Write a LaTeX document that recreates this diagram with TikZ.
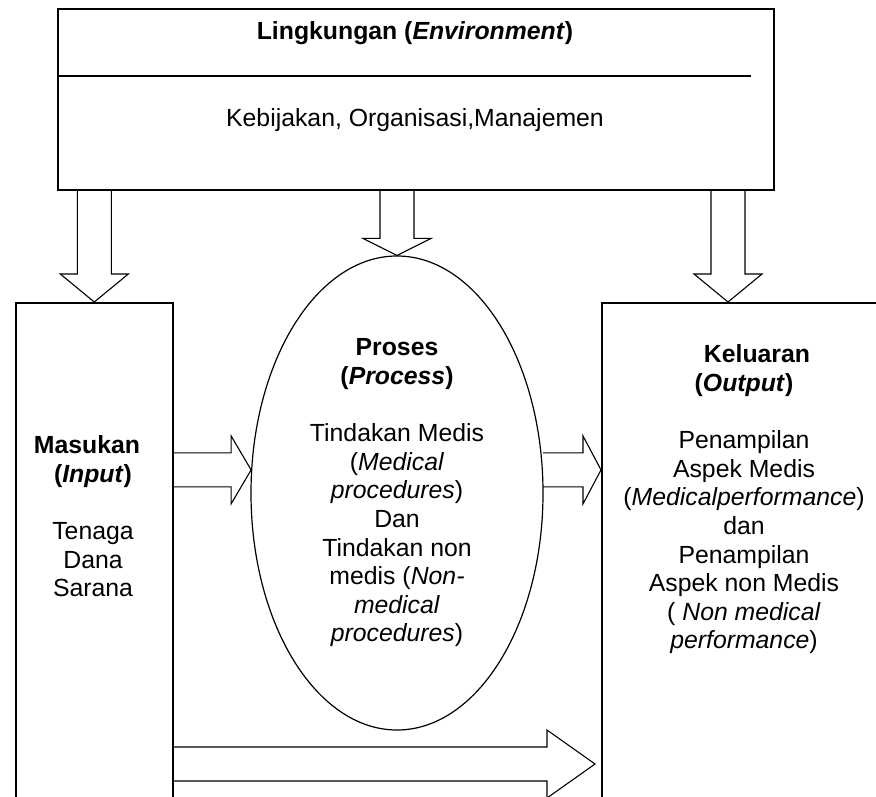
\documentclass[tikz,border=0pt]{standalone}
\usepackage{fontspec}
\setmainfont{Liberation Sans}
\usetikzlibrary{shapes.geometric,positioning,calc}

\begin{document}
\begin{tikzpicture}[
    x=0.5pt, y=-0.5pt,
    font=\fontsize{12.4}{14.3}\selectfont,
    box/.style={draw, line width=0.8pt, anchor=north west, inner sep=0pt},
    oval/.style={draw, ellipse, line width=0.6pt, align=center, inner sep=0pt, minimum width=146pt, minimum height=237pt},
    txt/.style={align=center, inner sep=0pt},
    hollow/.style={draw, line width=0.55pt, to path={
        ($(\tikztotarget)!#1!(\tikztostart)$) coordinate (hb)
        ($(\tikztostart)!8.5pt!90:(\tikztotarget)$) -- ($(hb)!8.5pt!90:(\tikztotarget)$)
        -- ($(hb)!17pt!90:(\tikztotarget)$) -- (\tikztotarget)
        -- ($(hb)!17pt!-90:(\tikztotarget)$) -- ($(hb)!8.5pt!-90:(\tikztotarget)$)
        -- ($(\tikztostart)!8.5pt!-90:(\tikztotarget)$)}}
]
    \useasboundingbox (0,0) rectangle (876,796);

    \node[box, minimum width=358pt, minimum height=90.5pt] (env) at (57,8) {};
    \node[txt] (envtitle) at (415,33) {\textbf{Lingkungan (\textit{Environment})}};
    \node[txt] (envbody) at (415,120) {Kebijakan, Organisasi,Manajemen};
    \coordinate (divend) at (751,76);
    \draw[line width=0.6pt] (env.west |- divend) -- (divend);

    \node[box, minimum width=78.5pt, minimum height=254pt] (input) at (15,302) {};
    \node[oval] (proc) at (397,493) {\textbf{Proses}\\ \textbf{(\textit{Process})}\\[14.3pt]
        Tindakan Medis\\ (\textit{Medical}\\ \textit{procedures})\\ Dan\\ Tindakan non\\
        medis (\textit{Non-}\\ \textit{medical}\\ \textit{procedures})};
    \node[box, minimum width=143pt, minimum height=254pt] (output) at (601,302) {};

    \node[txt] (inputtxt) at (93,516.5) {\mbox{\textbf{Masukan}\kern6pt}\\ \textbf{(\textit{Input})}\\[14.3pt]
        Tenaga\\ Dana\\ Sarana};
    \node[txt] (outputtxt) at (744,499.5) {\mbox{\kern13pt\textbf{Keluaran}}\\ \textbf{(\textit{Output})}\\[14.3pt]
        Penampilan\\ Aspek Medis\\ (\textit{Medicalperformance})\\ dan\\ Penampilan\\
        Aspek non Medis\\ ( \textit{Non medical}\\ \textit{performance})};

    \coordinate[right=63.5pt of output.north west] (outtop);
    \coordinate (lowrow) at (0,764);
    \coordinate (lowtip) at ($(output.west |- lowrow)+(-3pt,0)$);

    \draw[hollow=14pt] (env.south -| input.north) to (input.north);
    \draw[hollow=8.5pt] (env.south -| proc.north) to (proc.north);
    \draw[hollow=14pt] (env.south -| outtop) to (outtop);
    \draw[hollow=10pt] (input.east |- proc.171) to (proc.171);
    \draw[hollow=9pt] (proc.9) to (output.west |- proc.9);
    \draw[hollow=24pt] (input.east |- lowrow) to (lowtip);
\end{tikzpicture}
\end{document}
